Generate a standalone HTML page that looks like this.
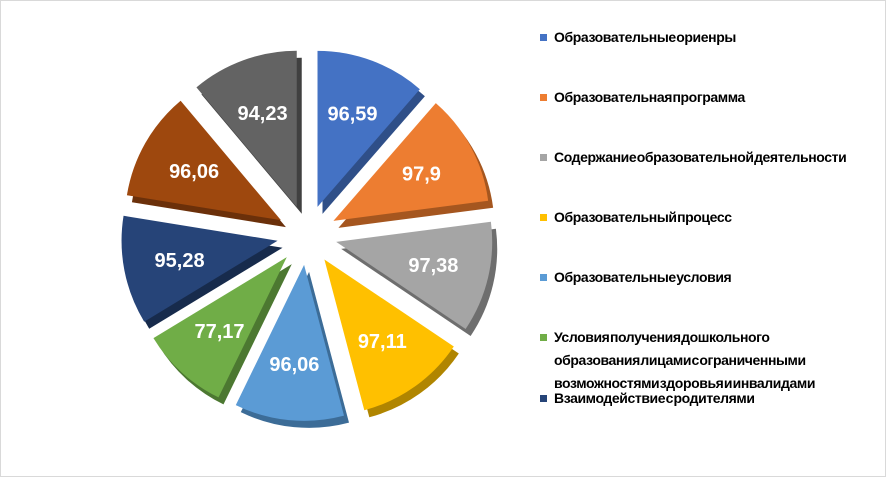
<!DOCTYPE html>
<html><head><meta charset="utf-8"><style>
body{margin:0;background:#fff;}
#wrap{position:relative;width:884px;height:475px;border:1px solid #d9d9d9;background:#fff;overflow:hidden;font-family:"Liberation Sans",sans-serif;}
.leg{position:absolute;left:540px;font-size:14px;font-weight:bold;letter-spacing:-0.4px;word-spacing:-3px;color:#000;line-height:22px;}
.sw{position:absolute;left:-1px;width:7px;height:7px;}
.lt{position:absolute;left:13px;white-space:nowrap;}
</style></head><body>
<div id="wrap">
<svg id="pie" width="540" height="475" style="position:absolute;left:0;top:0"></svg>
<div id="legend"></div>
</div>
<script>
const values=[96.59,97.9,97.38,97.11,96.06,77.17,95.28,96.06,94.23];
const labels=["96,59","97,9","97,38","97,11","96,06","77,17","95,28","96,06","94,23"];
const colors=["#4472C4","#ED7D31","#A5A5A5","#FFC000","#5B9BD5","#70AD47","#264478","#9E480E","#636363"];
const shade=["#2f4f88","#a5561f","#6e6e6e","#b08500","#3c6c97","#4c7831","#172b4c","#6b300a","#404040"];
const svg=document.getElementById('pie');
const NS="http://www.w3.org/2000/svg";
const cx=306,cy=234,r=156,ex=30;
const total=values.reduce((a,b)=>a+b,0);
function pt(a,rad,ox,oy){return [ox+rad*Math.sin(a),oy-rad*Math.cos(a)];}
let start=0;
const slices=[];
values.forEach((v,i)=>{const sweep=v/total*2*Math.PI;slices.push([start,start+sweep]);start+=sweep;});
function path(a0,a1,ox,oy){const p0=pt(a0,r,ox,oy),p1=pt(a1,r,ox,oy);const lg=(a1-a0)>Math.PI?1:0;
return `M${ox},${oy} L${p0[0]},${p0[1]} A${r},${r} 0 ${lg} 1 ${p1[0]},${p1[1]} Z`;}
slices.forEach(([a0,a1],i)=>{const m=(a0+a1)/2;const o=pt(m,ex,cx,cy);
const s=document.createElementNS(NS,'path');s.setAttribute('d',path(a0,a1,o[0]+5,o[1]+7));s.setAttribute('fill',shade[i]);


svg.appendChild(s);});
slices.forEach(([a0,a1],i)=>{const m=(a0+a1)/2;const o=pt(m,ex,cx,cy);
const p=document.createElementNS(NS,'path');p.setAttribute('d',path(a0,a1,o[0],o[1]));p.setAttribute('fill',colors[i]);


svg.appendChild(p);
const l=pt(m,r*0.64,o[0],o[1]);
const t=document.createElementNS(NS,'text');t.setAttribute('x',l[0]);t.setAttribute('y',l[1]+7);t.setAttribute('text-anchor','middle');
t.setAttribute('font-family','Liberation Sans, sans-serif');t.setAttribute('font-size','20');t.setAttribute('font-weight','bold');t.setAttribute('fill','#fff');
t.textContent=labels[i];


svg.appendChild(t);});
const legendItems=[["Образовательные ориенры",25],["Образовательная программа",85],["Содержание образовательной деятельности",145],["Образовательный процесс",205],["Образовательные условия",265],["Условия получения дошкольного<br>образования лицами с ограниченными<br>возможностями здоровья и инвалидами",325],["Взаимодействие с родителями",386]];
const lg=document.getElementById('legend');
legendItems.forEach(([txt,y],i)=>{const d=document.createElement('div');d.className='leg';d.style.top=y+'px';


d.innerHTML=`<span class="sw" style="top:8px;background:${colors[i]}"></span><span class="lt" style="line-height:${i==5?'23px':'22px'}">${txt}</span>`;
lg.appendChild(d);});
</script>
</body></html>
